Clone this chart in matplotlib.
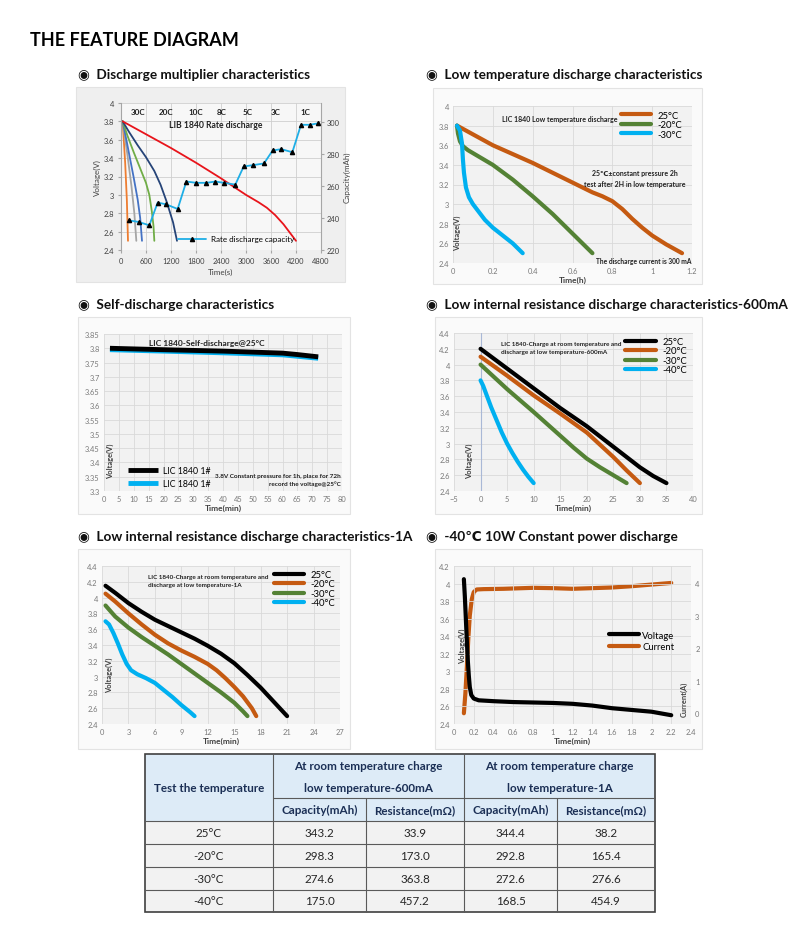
import matplotlib.pyplot as plt
from matplotlib.patches import Rectangle
from matplotlib.lines import Line2D

plt.rcParams['font.family'] = ['Lato', 'DejaVu Sans']
plt.rcParams['lines.solid_joinstyle'] = 'round'
plt.rcParams['lines.solid_capstyle'] = 'round'

W, H = 794, 929

# ---- discharge multiplier (rate discharge) ----
rate_t_30c = [40, 100, 140, 168]
rate_v_30c = [3.8, 3.35, 2.95, 2.5]
rate_t_20c = [40, 150, 250, 320, 368]
rate_v_20c = [3.8, 3.45, 3.1, 2.8, 2.5]
rate_t_10c = [40, 150, 300, 400, 460, 504]
rate_v_10c = [3.8, 3.55, 3.2, 2.95, 2.75, 2.5]
rate_t_8c = [40, 150, 300, 450, 600, 680, 740, 780, 800]
rate_v_8c = [3.8, 3.65, 3.47, 3.3, 3.13, 3.0, 2.82, 2.66, 2.5]
rate_t_5c = [40, 200, 400, 600, 800, 950, 1100, 1250, 1344]
rate_v_5c = [3.8, 3.68, 3.54, 3.41, 3.26, 3.11, 2.92, 2.7, 2.5]
rate_t_1c = [40, 600, 1200, 1800, 2400, 2700, 3000, 3300, 3500, 3700, 3900, 4050, 4200]
rate_v_1c = [3.8, 3.66, 3.51, 3.35, 3.18, 3.09, 3.0, 2.92, 2.86, 2.78, 2.68, 2.59, 2.5]
cap_t = [184, 424, 680, 880, 1080, 1360, 1568, 1808, 2048, 2264, 2472, 2744,
         2944, 3160, 3432, 3640, 3848, 4112, 4320, 4528, 4728]
cap_mah = [238.5, 237.5, 235.4, 249.6, 248.5, 245.6, 262.7, 261.9, 261.9, 262.7,
           261.9, 260.8, 272.1, 272.9, 274.0, 282.1, 282.9, 281.0, 298.1, 298.1, 299.0]
rate_names = ['30C', '20C', '10C', '8C', '5C', '3C', '1C']
rate_name_x = [400, 1080, 1784, 2424, 3032, 3720, 4424]

# ---- low temperature discharge ----
lt_25_t = [0.02, 0.2, 0.4, 0.6, 0.7, 0.75, 0.8, 0.85, 0.9, 0.95, 1.0, 1.07, 1.15]
lt_25_v = [3.8, 3.6, 3.42, 3.22, 3.12, 3.08, 3.03, 2.95, 2.85, 2.76, 2.68, 2.59, 2.5]
lt_m20_t = [0.02, 0.025, 0.035, 0.05, 0.075, 0.1, 0.15, 0.2, 0.3, 0.4, 0.5, 0.6, 0.7]
lt_m20_v = [3.8, 3.72, 3.64, 3.59, 3.55, 3.52, 3.46, 3.4, 3.25, 3.08, 2.9, 2.7, 2.5]
lt_m30_t = [0.02, 0.035, 0.045, 0.05, 0.055, 0.065, 0.08, 0.1, 0.13, 0.16, 0.2, 0.25,
            0.3, 0.35]
lt_m30_v = [3.8, 3.75, 3.62, 3.45, 3.32, 3.17, 3.07, 3.0, 2.92, 2.84, 2.76, 2.68,
            2.6, 2.5]

# ---- self discharge ----
sd_t = [2, 20, 40, 60, 65, 72]
sd_v1 = [3.800, 3.795, 3.790, 3.783, 3.778, 3.770]
sd_v2 = [3.795, 3.790, 3.784, 3.777, 3.772, 3.765]

# ---- 600 mA ----
m6_25_t = [0, 5, 10, 15, 20, 25, 27.5, 30, 32.5, 35]
m6_25_v = [4.2, 3.95, 3.7, 3.45, 3.22, 2.96, 2.83, 2.7, 2.59, 2.5]
m6_m20_t = [0, 5, 10, 15, 20, 25, 27.5, 30]
m6_m20_v = [4.1, 3.86, 3.61, 3.38, 3.14, 2.83, 2.66, 2.5]
m6_m30_t = [0, 5, 10, 15, 17.5, 20, 22.5, 25, 27.5]
m6_m30_v = [4.0, 3.69, 3.4, 3.1, 2.95, 2.81, 2.7, 2.6, 2.5]
m6_m40_t = [0, 0.5, 1, 2, 3, 4, 5, 6, 7, 8, 9, 10]
m6_m40_v = [3.8, 3.73, 3.64, 3.46, 3.3, 3.14, 3.0, 2.88, 2.77, 2.67, 2.58, 2.5]

# ---- 1 A ----
a1_25_t = [0.4, 1.5, 3, 4.5, 6, 7.5, 9, 10.5, 12, 13.5, 15, 16.5, 18, 19.5, 21]
a1_25_v = [4.15, 4.06, 3.93, 3.82, 3.72, 3.64, 3.56, 3.48, 3.39, 3.29, 3.17, 3.02,
           2.86, 2.68, 2.5]
a1_m20_t = [0.4, 1.5, 3, 4.5, 6, 7.5, 9, 10.5, 12, 13, 14, 15, 16, 17, 17.5]
a1_m20_v = [4.05, 3.95, 3.8, 3.66, 3.53, 3.42, 3.33, 3.25, 3.16, 3.08, 2.98, 2.87,
            2.75, 2.6, 2.5]
a1_m30_t = [0.4, 1.5, 3, 4.5, 6, 7.5, 9, 10.5, 12, 13.5, 15, 16, 16.5]
a1_m30_v = [3.9, 3.76, 3.62, 3.5, 3.39, 3.28, 3.16, 3.04, 2.92, 2.8, 2.67, 2.56, 2.5]
a1_m40_t = [0.4, 0.8, 1.3, 1.8, 2.3, 2.8, 3.3, 4, 5, 6, 7, 8, 9, 10, 10.5]
a1_m40_v = [3.7, 3.66, 3.55, 3.42, 3.28, 3.16, 3.08, 3.03, 2.98, 2.92, 2.83, 2.74,
            2.64, 2.55, 2.5]

# ---- -40C constant power ----
cp_vt = [0.1, 0.11, 0.12, 0.13, 0.14, 0.15, 0.16, 0.175, 0.2, 0.25, 0.4, 0.6, 0.8,
         1.0, 1.2, 1.4, 1.6, 1.8, 2.0, 2.1, 2.2]
cp_v = [4.05, 3.85, 3.6, 3.35, 3.12, 2.95, 2.82, 2.73, 2.69, 2.67, 2.66, 2.65, 2.645,
        2.64, 2.63, 2.61, 2.58, 2.56, 2.54, 2.52, 2.50]
cp_it = [0.1, 0.115, 0.13, 0.145, 0.16, 0.18, 0.2, 0.23, 0.3, 0.5, 0.8, 1.0, 1.2,
         1.4, 1.6, 1.8, 2.0, 2.2]
cp_i = [0.0, 0.6, 1.4, 2.3, 3.0, 3.5, 3.72, 3.8, 3.81, 3.82, 3.85, 3.84, 3.82, 3.84,
        3.86, 3.9, 3.95, 4.0]

# ---- table ----
tbl_temps = ['25°C', '-20°C', '-30°C', '-40°C']
tbl_cap_600 = ['343.2', '298.3', '274.6', '175.0']
tbl_res_600 = ['33.9', '173.0', '363.8', '457.2']
tbl_cap_1a = ['344.4', '292.8', '272.6', '168.5']
tbl_res_1a = ['38.2', '165.4', '276.6', '454.9']

ORANGE = '#C55A11'
GREEN = '#548235'
LBLUE = '#00B0F0'
TICK_C = '#7a7a7a'
LAB_C = '#404040'
TXT_C = '#222222'
TICK_FS = 5.4
LEG_FS = 6.8

fig = plt.figure(figsize=(W / 100, H / 100), dpi=100)


def px_axes(x0, y0, x1, y1, **kw):
    return fig.add_axes([x0 / W, 1 - y1 / H, (x1 - x0) / W, (y1 - y0) / H], **kw)


def panel(x0, y0, x1, y1, fc='#fafafa'):
    fig.patches.append(Rectangle((x0 / W, 1 - y1 / H), (x1 - x0) / W, (y1 - y0) / H,
                                 transform=fig.transFigure, facecolor=fc,
                                 edgecolor='#e3e3e3', lw=0.8, zorder=-5))


def style(ax, fc='#f2f2f2'):
    ax.set_facecolor(fc)
    ax.grid(True, color='#d9d9d9', lw=0.6)
    ax.set_axisbelow(True)
    for s in ax.spines.values():
        s.set_visible(False)
    ax.tick_params(length=0, labelsize=TICK_FS, labelcolor=TICK_C, pad=3)


def heading(x, y, txt):
    fig.text(x / W, 1 - y / H, '◉  ' + txt, fontsize=9.8, fontweight='bold',
             va='center', ha='left', color='#111111')


def vlabel(ax, x, y, va='bottom'):
    ax.text(x, y, 'Voltage(V)', transform=ax.transAxes, rotation=90, fontsize=5.4,
            fontweight='bold', color=LAB_C, ha='center', va=va)


def temp_legend(ax, anchor):
    ax.legend(loc='upper right', bbox_to_anchor=anchor, fontsize=LEG_FS, frameon=False,
              handlelength=3.2, handletextpad=0.7, labelspacing=0.05, borderpad=0,
              borderaxespad=0)


fig.text(30 / W, 1 - 40 / H, 'THE FEATURE DIAGRAM', fontsize=13, fontweight='bold',
         va='center', ha='left')
heading(78, 75, 'Discharge multiplier characteristics')
heading(426, 75, 'Low temperature discharge characteristics')
heading(78, 305, 'Self-discharge characteristics')
heading(426, 305, 'Low internal resistance discharge characteristics-600mA')
heading(78, 537, 'Low internal resistance discharge characteristics-1A')
heading(426, 537, '-40℃ 10W Constant power discharge')

# ================= panel 1 =================
panel(76, 88, 345, 283, fc='#efefef')
ax = px_axes(121, 104, 321, 251)
style(ax, fc='#f7f7f7')
ax.grid(True, color='#cfcfcf', lw=0.6)
ax.spines['left'].set_visible(True)
ax.spines['left'].set_color('#a6a6a6')
ax.tick_params(length=2, color='#a6a6a6', labelcolor=LAB_C)
ax.plot(rate_t_30c, rate_v_30c, color='#ED7D31', lw=1.3)
ax.plot(rate_t_20c, rate_v_20c, color='#A5A5A5', lw=1.3)
ax.plot(rate_t_10c, rate_v_10c, color='#4472C4', lw=1.3)
ax.plot(rate_t_8c, rate_v_8c, color='#70AD47', lw=1.3)
ax.plot(rate_t_5c, rate_v_5c, color='#264478', lw=1.3)
ax.plot(rate_t_1c, rate_v_1c, color='#E8141B', lw=1.3)
ax.set_xlim(0, 4800)
ax.set_ylim(2.4, 4.0)
ax.set_xticks(range(0, 4801, 600))
ax.set_yticks([2.4, 2.6, 2.8, 3.0, 3.2, 3.4, 3.6, 3.8, 4.0])
ax.set_yticklabels(['2.4', '2.6', '2.8', '3', '3.2', '3.4', '3.6', '3.8', '4'])
ax.set_xlabel('Time(s)', fontsize=5.8, color=LAB_C, labelpad=3)
ax.set_ylabel('Voltage(V)', fontsize=5.8, color=LAB_C, labelpad=2)
for n, x in zip(rate_names, rate_name_x):
    ax.text(x, 3.91, n, fontsize=5.8, fontweight='bold', color=TXT_C, ha='center', va='center')
ax.text(2264, 3.77, 'LIB 1840 Rate discharge', fontsize=6.2, fontweight='bold',
        color=TXT_C, ha='center', va='center')
ax2 = ax.twinx()
ax2.plot(cap_t, cap_mah, color='#1EAEE6', lw=1.3, marker='^', ms=3,
         mfc='black', mec='black', label='Rate discharge capacity')
ax2.set_ylim(220, 311.7)
ax2.set_yticks([220, 240, 260, 280, 300])
for s in ax2.spines.values():
    s.set_visible(False)
ax2.spines['right'].set_visible(True)
ax2.spines['right'].set_color('#a6a6a6')
ax2.tick_params(length=2, color='#a6a6a6', labelsize=TICK_FS, labelcolor=LAB_C, pad=2)
ax2.set_ylabel('Capacity(mAh)', fontsize=5.8, color=LAB_C, labelpad=3)
ax2.legend(loc='center', bbox_to_anchor=(0.575, 0.075), fontsize=5.8, frameon=False,
           handlelength=3.5, handletextpad=0.6, borderpad=0)

# ================= panel 2 =================
panel(433, 89, 702, 285)
ax = px_axes(453, 107, 692, 264)
style(ax)
ax.plot(lt_25_t, lt_25_v, color=ORANGE, lw=3, label='25°C')
ax.plot(lt_m20_t, lt_m20_v, color=GREEN, lw=3, label='-20°C')
ax.plot(lt_m30_t, lt_m30_v, color=LBLUE, lw=3, label='-30°C')
ax.set_xlim(0, 1.2)
ax.set_ylim(2.4, 4.0)
ax.set_xticks([0, 0.2, 0.4, 0.6, 0.8, 1.0, 1.2])
ax.set_xticklabels(['0', '0.2', '0.4', '0.6', '0.8', '1', '1.2'])
ax.set_yticks([2.4, 2.6, 2.8, 3.0, 3.2, 3.4, 3.6, 3.8, 4.0])
ax.set_yticklabels(['2.4', '2.6', '2.8', '3', '3.2', '3.4', '3.6', '3.8', '4'])
ax.set_xlabel('Time(h)', fontsize=6, fontweight='bold', color=LAB_C, labelpad=1)
vlabel(ax, 0.02, 0.08)
temp_legend(ax, (0.96, 0.97))
ax.text(0.537, 3.875, 'LIC 1840 Low temperature discharge', fontsize=5.0,
        fontweight='bold', color=TXT_C, ha='center', va='center')
ax.text(0.915, 3.32, '25℃±constant pressure 2h', fontsize=5, fontweight='bold',
        color=TXT_C, ha='center', va='center')
ax.text(0.915, 3.21, 'test after 2H in low temperature', fontsize=5, fontweight='bold',
        color=TXT_C, ha='center', va='center')
ax.text(0.957, 2.43, 'The discharge current is 300 mA', fontsize=4.8, fontweight='bold',
        color=TXT_C, ha='center', va='center')

# ================= panel 3 =================
panel(78, 318, 350, 515)
ax = px_axes(104, 335, 342, 492)
style(ax)
ax.plot(sd_t, sd_v2, color=LBLUE, lw=3.5, solid_capstyle='butt', label='LIC 1840 1#')
ax.plot(sd_t, sd_v1, color='black', lw=3.5, solid_capstyle='butt', label='LIC 1840 1#')
ax.set_xlim(0, 80)
ax.set_ylim(3.3, 3.85)
ax.set_xticks(range(0, 81, 5))
ax.set_yticks([3.3 + 0.05 * i for i in range(12)])
ax.set_yticklabels(['3.3', '3.35', '3.4', '3.45', '3.5', '3.55', '3.6', '3.65', '3.7',
                    '3.75', '3.8', '3.85'])
ax.set_xlabel('Time(min)', fontsize=6, fontweight='bold', color=LAB_C, labelpad=1)
vlabel(ax, 0.025, 0.08)
h, l = ax.get_legend_handles_labels()
ax.legend(h[::-1], l[::-1], loc='lower left', bbox_to_anchor=(0.1, 0.02), fontsize=6.3,
          frameon=False, handlelength=3.4, handletextpad=0.6, labelspacing=0.4,
          borderpad=0, borderaxespad=0)
ax.text(34.7, 3.82, 'LIC 1840-Self-discharge@25°C', fontsize=6, fontweight='bold',
        color=TXT_C, ha='center', va='center')
ax.text(79.6, 3.356, '3.8V Constant pressure for 1h, place for 72h', fontsize=4.6,
        fontweight='bold', color=TXT_C, ha='right', va='center')
ax.text(79.6, 3.327, 'record the voltage@25°C', fontsize=4.6, fontweight='bold',
        color=TXT_C, ha='right', va='center')

# ================= panel 4 =================
panel(435, 318, 702, 515)
ax = px_axes(454, 334, 693, 492)
style(ax)
ax.axvline(0, color='#a9b8d6', lw=0.8)
ax.plot(m6_25_t, m6_25_v, color='black', lw=3, label='25°C')
ax.plot(m6_m20_t, m6_m20_v, color=ORANGE, lw=3, label='-20°C')
ax.plot(m6_m30_t, m6_m30_v, color=GREEN, lw=3, label='-30°C')
ax.plot(m6_m40_t, m6_m40_v, color=LBLUE, lw=3, label='-40°C')
ax.set_xlim(-5, 40)
ax.set_ylim(2.4, 4.4)
ax.set_xticks(range(-5, 41, 5))
ax.set_yticks([2.4 + 0.2 * i for i in range(11)])
ax.set_yticklabels(['2.4', '2.6', '2.8', '3', '3.2', '3.4', '3.6', '3.8', '4', '4.2', '4.4'])
ax.set_xlabel('Time(min)', fontsize=6, fontweight='bold', color=LAB_C, labelpad=1)
vlabel(ax, 0.065, 0.08)
temp_legend(ax, (0.975, 0.975))
ax.text(3.8, 4.27, 'LIC 1840-Charge at room temperature and', fontsize=4.6,
        fontweight='bold', color=TXT_C, ha='left', va='center')
ax.text(3.8, 4.17, 'discharge at low temperature-600mA', fontsize=4.6,
        fontweight='bold', color=TXT_C, ha='left', va='center')

# ================= panel 5 =================
panel(78, 550, 350, 750)
ax = px_axes(102, 567, 340, 725)
style(ax)
ax.plot(a1_25_t, a1_25_v, color='black', lw=3, label='25°C')
ax.plot(a1_m20_t, a1_m20_v, color=ORANGE, lw=3, label='-20°C')
ax.plot(a1_m30_t, a1_m30_v, color=GREEN, lw=3, label='-30°C')
ax.plot(a1_m40_t, a1_m40_v, color=LBLUE, lw=3, label='-40°C')
ax.set_xlim(0, 27)
ax.set_ylim(2.4, 4.4)
ax.set_xticks(range(0, 28, 3))
ax.set_yticks([2.4 + 0.2 * i for i in range(11)])
ax.set_yticklabels(['2.4', '2.6', '2.8', '3', '3.2', '3.4', '3.6', '3.8', '4', '4.2', '4.4'])
ax.set_xlabel('Time(min)', fontsize=6, fontweight='bold', color=LAB_C, labelpad=1)
vlabel(ax, 0.03, 0.2)
temp_legend(ax, (0.98, 0.975))
ax.text(5.2, 4.27, 'LIC 1840-Charge at room temperature and', fontsize=4.6,
        fontweight='bold', color=TXT_C, ha='left', va='center')
ax.text(5.2, 4.17, 'discharge at low temperature-1A', fontsize=4.6,
        fontweight='bold', color=TXT_C, ha='left', va='center')

# ================= panel 6 =================
panel(435, 550, 702, 750)
ax = px_axes(454, 567, 691, 725)
style(ax)
ax.plot(cp_vt, cp_v, color='black', lw=3, zorder=3)
ax.set_xlim(0, 2.4)
ax.set_ylim(2.4, 4.2)
ax.set_xticks([0.2 * i for i in range(13)])
ax.set_xticklabels(['0', '0.2', '0.4', '0.6', '0.8', '1', '1.2', '1.4', '1.6', '1.8',
                    '2', '2.2', '2.4'])
ax.set_yticks([2.4 + 0.2 * i for i in range(10)])
ax.set_yticklabels(['2.4', '2.6', '2.8', '3', '3.2', '3.4', '3.6', '3.8', '4', '4.2'])
ax.set_xlabel('Time(min)', fontsize=6, fontweight='bold', color=LAB_C, labelpad=1)
vlabel(ax, 0.035, 0.5, va='center')
ax.text(0.97, 0.05, 'Current(A)', transform=ax.transAxes, rotation=90, fontsize=5.4,
        fontweight='bold', color=LAB_C, ha='center', va='bottom')
ax2 = ax.twinx()
ax2.plot(cp_it, cp_i, color=ORANGE, lw=3)
ax2.set_ylim(-0.33, 4.52)
ax2.set_yticks([0, 1, 2, 3, 4])
for s in ax2.spines.values():
    s.set_visible(False)
ax2.tick_params(length=0, labelsize=TICK_FS, labelcolor=TICK_C, pad=3)
ax.set_zorder(ax2.get_zorder() + 1)
ax2.set_facecolor('#f2f2f2')
ax2.patch.set_visible(True)
ax.set_facecolor('none')
legend_handles = [Line2D([], [], color='black', lw=3), Line2D([], [], color=ORANGE, lw=3)]
ax.legend(legend_handles, ['Voltage', 'Current'], loc='center left',
          bbox_to_anchor=(0.655, 0.525), fontsize=LEG_FS, frameon=False, handlelength=3.1,
          handletextpad=0.4, labelspacing=0.3, borderpad=0, borderaxespad=0)

# ================= table =================
tax = px_axes(140, 750, 660, 918)
tax.set_xlim(140, 660)
tax.set_ylim(918, 750)
tax.axis('off')
cols = [145, 273, 366, 464, 557, 655]
rows = [755, 799, 822, 845, 868, 891, 913]
HEAD_BG = '#DDEBF7'
BODY_BG = '#F2F2F2'
NAVY = '#1B2F55'
tax.add_patch(Rectangle((cols[0], rows[0]), cols[-1] - cols[0], rows[2] - rows[0],
                        facecolor=HEAD_BG, edgecolor='none'))
tax.add_patch(Rectangle((cols[0], rows[2]), cols[-1] - cols[0], rows[-1] - rows[2],
                        facecolor=BODY_BG, edgecolor='none'))
lc = '#5a5a5a'
for y in rows[2:-1]:
    tax.plot([cols[0], cols[-1]], [y, y], color=lc, lw=0.8)
tax.plot([cols[1], cols[-1]], [rows[1], rows[1]], color=lc, lw=0.8)
for x in cols[1:-1]:
    y0 = rows[1] if x in (cols[2], cols[4]) else rows[0]
    tax.plot([x, x], [y0, rows[-1]], color=lc, lw=0.8)
tax.add_patch(Rectangle((cols[0], rows[0]), cols[-1] - cols[0], rows[-1] - rows[0],
                        facecolor='none', edgecolor='#404040', lw=1.2))
hfs = 8.4
tax.text((cols[0] + cols[1]) / 2, (rows[0] + rows[2]) / 2, 'Test the temperature',
         fontsize=hfs, fontweight='bold', color=NAVY, ha='center', va='center')
for c0, c1, sub in [(cols[1], cols[3], '600mA'), (cols[3], cols[5], '1A')]:
    tax.text((c0 + c1) / 2, 767, 'At room temperature charge', fontsize=hfs,
             fontweight='bold', color=NAVY, ha='center', va='center')
    tax.text((c0 + c1) / 2, 789, 'low temperature-' + sub, fontsize=hfs,
             fontweight='bold', color=NAVY, ha='center', va='center')
sub_heads = ['Capacity(mAh)', 'Resistance(mΩ)', 'Capacity(mAh)', 'Resistance(mΩ)']
for i, s in enumerate(sub_heads):
    tax.text((cols[i + 1] + cols[i + 2]) / 2, (rows[1] + rows[2]) / 2, s, fontsize=hfs,
             fontweight='bold', color=NAVY, ha='center', va='center')
body = [tbl_temps, tbl_cap_600, tbl_res_600, tbl_cap_1a, tbl_res_1a]
for ci, col in enumerate(body):
    for ri, val in enumerate(col):
        tax.text((cols[ci] + cols[ci + 1]) / 2, (rows[ri + 2] + rows[ri + 3]) / 2, val,
                 fontsize=8.4, color='#262626', ha='center', va='center')

fig.savefig('out.png', dpi=100)
